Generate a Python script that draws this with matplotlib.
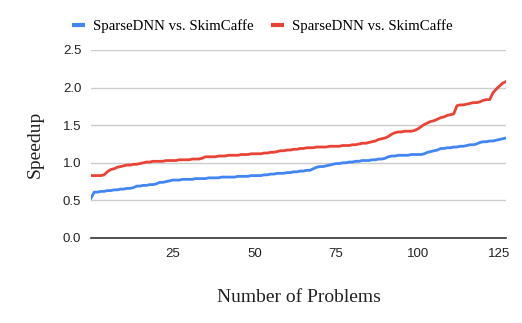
"""Speedup of SparseDNN vs. SkimCaffe across problems (sorted)."""

import matplotlib
matplotlib.use("Agg")
import matplotlib.pyplot as plt
from matplotlib.lines import Line2D
import numpy as np

# ── Data ────────────────────────────────────────────────────────────────────
SERIES_LABELS = ["SparseDNN vs. SkimCaffe", "SparseDNN vs. SkimCaffe"]

BLUE_SPEEDUP = [
    0.53, 0.61, 0.61, 0.62, 0.62, 0.63, 0.63, 0.64, 0.64, 0.65,
    0.65, 0.66, 0.66, 0.67, 0.69, 0.69, 0.70, 0.70, 0.71, 0.71,
    0.72, 0.74, 0.74, 0.75, 0.76, 0.77, 0.77, 0.77, 0.78, 0.78,
    0.78, 0.78, 0.79, 0.79, 0.79, 0.79, 0.80, 0.80, 0.80, 0.80,
    0.81, 0.81, 0.81, 0.81, 0.81, 0.82, 0.82, 0.82, 0.82, 0.83,
    0.83, 0.83, 0.83, 0.84, 0.84, 0.85, 0.85, 0.86, 0.86, 0.86,
    0.87, 0.87, 0.88, 0.88, 0.89, 0.89, 0.90, 0.90, 0.92, 0.94,
    0.95, 0.95, 0.96, 0.97, 0.98, 0.99, 0.99, 1.00, 1.00, 1.01,
    1.01, 1.02, 1.02, 1.03, 1.03, 1.03, 1.04, 1.04, 1.05, 1.05,
    1.06, 1.08, 1.09, 1.09, 1.10, 1.10, 1.10, 1.10, 1.11, 1.11,
    1.11, 1.11, 1.12, 1.14, 1.15, 1.16, 1.17, 1.19, 1.19, 1.20,
    1.20, 1.21, 1.21, 1.22, 1.22, 1.23, 1.24, 1.24, 1.25, 1.27,
    1.28, 1.28, 1.29, 1.29, 1.30, 1.31, 1.32, 1.33,
]

RED_SPEEDUP = [
    0.83, 0.83, 0.83, 0.83, 0.84, 0.88, 0.91, 0.92, 0.94, 0.95,
    0.96, 0.97, 0.97, 0.98, 0.98, 0.99, 1.00, 1.01, 1.01, 1.02,
    1.02, 1.02, 1.02, 1.03, 1.03, 1.03, 1.03, 1.04, 1.04, 1.04,
    1.04, 1.05, 1.05, 1.05, 1.06, 1.08, 1.08, 1.08, 1.08, 1.09,
    1.09, 1.09, 1.10, 1.10, 1.10, 1.10, 1.11, 1.11, 1.11, 1.12,
    1.12, 1.12, 1.12, 1.13, 1.13, 1.14, 1.14, 1.15, 1.16, 1.16,
    1.17, 1.17, 1.18, 1.18, 1.19, 1.19, 1.20, 1.20, 1.20, 1.21,
    1.21, 1.21, 1.21, 1.22, 1.22, 1.22, 1.22, 1.23, 1.23, 1.23,
    1.24, 1.24, 1.25, 1.26, 1.26, 1.27, 1.28, 1.29, 1.31, 1.32,
    1.33, 1.35, 1.38, 1.40, 1.41, 1.41, 1.42, 1.42, 1.42, 1.43,
    1.45, 1.48, 1.51, 1.53, 1.55, 1.56, 1.58, 1.60, 1.61, 1.63,
    1.64, 1.65, 1.76, 1.77, 1.77, 1.78, 1.79, 1.80, 1.80, 1.81,
    1.83, 1.84, 1.84, 1.93, 1.98, 2.02, 2.06, 2.08,
]

X_TICKS = [25, 50, 75, 100, 125]
Y_TICKS = [0.0, 0.5, 1.0, 1.5, 2.0, 2.5]

COLORS = ["#4285F4", "#EA4335"]

SERIF = ["Liberation Serif", "DejaVu Serif"]
SANS = ["Liberation Sans", "DejaVu Sans"]

# ── Figure ──────────────────────────────────────────────────────────────────
fig = plt.figure(figsize=(5.22, 3.23), dpi=100)
fig.patch.set_facecolor("white")
ax = fig.add_axes([91 / 522, 1 - 238 / 323, 415 / 522, 188 / 323])

x = np.arange(len(BLUE_SPEEDUP))
for vals, color, label in zip([BLUE_SPEEDUP, RED_SPEEDUP], COLORS, SERIES_LABELS):
    ax.plot(x, vals, color=color, linewidth=2.0, label=label, zorder=3,
            solid_joinstyle="round")

ax.set_xlim(0, len(BLUE_SPEEDUP) - 1)
ax.set_ylim(0, 2.5)
ax.set_xticks(X_TICKS)
ax.set_yticks(Y_TICKS)
ax.set_yticklabels([f"{v:.1f}" for v in Y_TICKS])
for lbl in ax.get_xticklabels() + ax.get_yticklabels():
    lbl.set_fontfamily(SANS)
    lbl.set_fontsize(9.5)
    lbl.set_color("#222222")
ax.tick_params(axis="both", length=0, pad=7)

for spine in ("top", "right", "left"):
    ax.spines[spine].set_visible(False)
ax.spines["bottom"].set_color("#333333")
ax.spines["bottom"].set_linewidth(1.2)

ax.yaxis.grid(True, color="#cccccc", linewidth=1.0)
ax.set_axisbelow(True)

ax.set_ylabel("Speedup", fontfamily=SERIF, fontsize=14, labelpad=14,
              color="#222222")
ax.set_xlabel("Number of Problems", fontfamily=SERIF, fontsize=14,
              labelpad=21, color="#222222")

handles = [Line2D([], [], color=c, linewidth=3.0, solid_capstyle="butt")
           for c in COLORS]
ax.legend(handles, SERIES_LABELS, loc="center", bbox_to_anchor=(0.413, 1.125),
          ncol=2, frameon=False, prop={"family": SERIF, "size": 10.7},
          handlelength=0.85, handletextpad=0.55, columnspacing=1.2)

fig.savefig("out.png", dpi=100, facecolor="white")
plt.close(fig)
